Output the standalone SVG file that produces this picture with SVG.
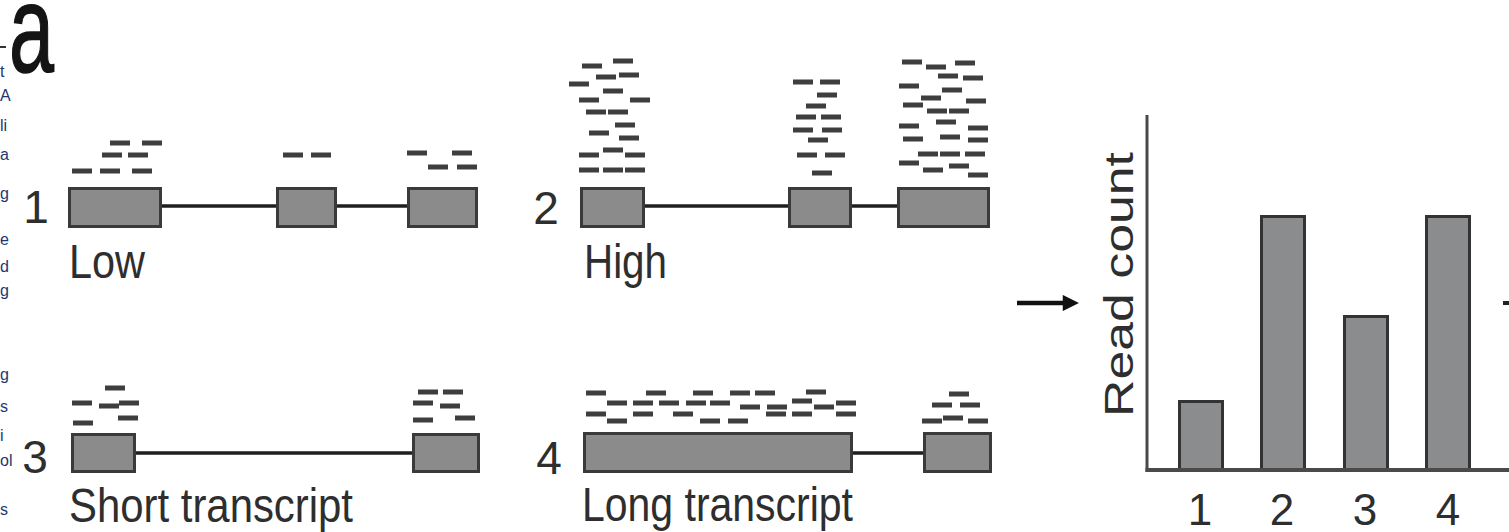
<svg xmlns="http://www.w3.org/2000/svg" xmlns:xlink="http://www.w3.org/1999/xlink" width="1509" height="532" viewBox="0 0 1509 532">
  <style>
    .lbl { font-family: "Liberation Sans", Arial, sans-serif; font-size: 48px; fill: #2e2e2e; }
    .num { font-family: "Liberation Sans", Arial, sans-serif; font-size: 46px; fill: #2e2e2e; text-anchor: middle; }
    .ax  { font-family: "Liberation Sans", Arial, sans-serif; font-size: 44px; fill: #2e2e2e; text-anchor: middle; }
    .frag { font-family: "Liberation Sans", Arial, sans-serif; font-size: 16px; fill: #1f3572; }
    .exon { fill: #8b8b8b; stroke: #3a3a3a; stroke-width: 3; }
    .intron { stroke: #1e1e1e; stroke-width: 3.5; fill: none; }
    .bar { fill: #8b8c8e; stroke: #333; stroke-width: 3; }
    .axis { stroke: #4a4a4a; fill: none; }
    .rd { fill: #3e3e3e; }
  </style>
  <defs>
    <!-- one sequencing read -->
    <rect id="r" width="20" height="5" class="rd"/>
    <marker id="head" viewBox="0 0 10 10" refX="2" refY="5" markerWidth="3.8" markerHeight="3.6" orient="auto" markerUnits="strokeWidth">
      <path d="M0,0 L10,5 L0,10 z" fill="#111"/>
    </marker>
  </defs>
  <rect width="1509" height="532" fill="#ffffff"/>

  <!-- text running in from the left margin -->
  <g id="margin-text">
    <rect x="0" y="46" width="6" height="2" fill="#333"/>
    <text class="frag" x="0" y="77">t</text>
    <text class="frag" x="0" y="101">A</text>
    <text class="frag" x="0" y="131">li</text>
    <text class="frag" x="0" y="160">a</text>
    <text class="frag" x="0" y="199">g</text>
    <text class="frag" x="0" y="245">e</text>
    <text class="frag" x="0" y="272">d</text>
    <text class="frag" x="0" y="296">g</text>
    <text class="frag" x="0" y="380">g</text>
    <text class="frag" x="0" y="412">s</text>
    <text class="frag" x="0" y="441">i</text>
    <text class="frag" x="0" y="466">ol</text>
    <text class="frag" x="0" y="515">s</text>
  </g>

  <!-- panel letter -->
  <text id="panel-label" x="9" y="72" font-family="'Liberation Sans', Arial, sans-serif" font-size="124" fill="#141414" stroke="#141414" stroke-width="1.5" textLength="45" lengthAdjust="spacingAndGlyphs">a</text>

  <!-- gene 1: low expression -->
  <g id="gene1">
    <line class="intron" x1="160" y1="206" x2="410" y2="206"/>
    <rect class="exon" x="69.5" y="188.5" width="91" height="38"/>
    <rect class="exon" x="277.5" y="188.5" width="58" height="38"/>
    <rect class="exon" x="408.5" y="188.5" width="68" height="38"/>
    <g>
      <use href="#r" x="110" y="140.5"/><use href="#r" x="142" y="140.5"/>
      <use href="#r" x="102" y="152.5"/><use href="#r" x="128" y="152.5"/>
      <use href="#r" x="72" y="168.5"/><use href="#r" x="100" y="168.5"/><use href="#r" x="132" y="168.5"/>
      <use href="#r" x="283" y="152.5"/><use href="#r" x="311" y="152.5"/>
      <use href="#r" x="407" y="150.5"/><use href="#r" x="452" y="150.5"/>
      <use href="#r" x="428" y="164.5"/><use href="#r" x="457" y="164.5"/>
    </g>
    <text class="num" x="36" y="223">1</text>
    <text class="lbl" x="69" y="278" textLength="76" lengthAdjust="spacingAndGlyphs">Low</text>
  </g>

  <!-- gene 2: high expression -->
  <g id="gene2">
    <line class="intron" x1="643" y1="206" x2="899" y2="206"/>
    <rect class="exon" x="581.5" y="188.5" width="62" height="38"/>
    <rect class="exon" x="789.5" y="188.5" width="61" height="38"/>
    <rect class="exon" x="898.5" y="188.5" width="90" height="38"/>
    <g>
      <use href="#r" x="613" y="58.5"/><use href="#r" x="582" y="63.5"/><use href="#r" x="596" y="74.5"/>
      <use href="#r" x="619" y="72.5"/><use href="#r" x="569" y="81.5"/><use href="#r" x="603" y="88.5"/>
      <use href="#r" x="579" y="97.5"/><use href="#r" x="630" y="97.5"/><use href="#r" x="586" y="109.5"/>
      <use href="#r" x="608" y="109.5"/><use href="#r" x="615" y="122.5"/><use href="#r" x="589" y="130.5"/>
      <use href="#r" x="619" y="135.5"/><use href="#r" x="579" y="152.5"/><use href="#r" x="603" y="147.5"/>
      <use href="#r" x="625" y="152.5"/><use href="#r" x="579" y="167.5"/><use href="#r" x="603" y="167.5"/>
      <use href="#r" x="625" y="167.5"/>

      <use href="#r" x="793" y="79.5"/><use href="#r" x="820" y="79.5"/><use href="#r" x="817" y="92.5"/>
      <use href="#r" x="806" y="103.5"/><use href="#r" x="796" y="114.5"/><use href="#r" x="821" y="114.5"/>
      <use href="#r" x="793" y="127.5"/><use href="#r" x="822" y="127.5"/><use href="#r" x="808" y="137.5"/>
      <use href="#r" x="797" y="152.5"/><use href="#r" x="825" y="152.5"/><use href="#r" x="812" y="170.5"/>

      <use href="#r" x="902" y="59.5"/><use href="#r" x="926" y="64.5"/><use href="#r" x="955" y="60.5"/>
      <use href="#r" x="938" y="73.5"/><use href="#r" x="963" y="75.5"/><use href="#r" x="899" y="83.5"/>
      <use href="#r" x="942" y="87.5"/><use href="#r" x="921" y="95.5"/><use href="#r" x="966" y="98.5"/>
      <use href="#r" x="903" y="102.5"/><use href="#r" x="927" y="108.5"/><use href="#r" x="949" y="108.5"/>
      <use href="#r" x="936" y="119.5"/><use href="#r" x="899" y="123.5"/><use href="#r" x="968" y="125.5"/>
      <use href="#r" x="903" y="136.5"/><use href="#r" x="940" y="134.5"/><use href="#r" x="968" y="137.5"/>
      <use href="#r" x="918" y="151.5"/><use href="#r" x="940" y="151.5"/><use href="#r" x="965" y="151.5"/>
      <use href="#r" x="899" y="160.5"/><use href="#r" x="923" y="167.5"/><use href="#r" x="949" y="163.5"/>
      <use href="#r" x="968" y="172.5"/>
    </g>
    <text class="num" x="546" y="224">2</text>
    <text class="lbl" x="584" y="278" textLength="83" lengthAdjust="spacingAndGlyphs">High</text>
  </g>

  <!-- gene 3: short transcript -->
  <g id="gene3">
    <line class="intron" x1="134" y1="453" x2="414" y2="453"/>
    <rect class="exon" x="72.5" y="434.5" width="62" height="37"/>
    <rect class="exon" x="413.5" y="434.5" width="65" height="37"/>
    <g>
      <use href="#r" x="105" y="385.5"/><use href="#r" x="72" y="400.5"/><use href="#r" x="99" y="403.5"/>
      <use href="#r" x="119" y="400.5"/><use href="#r" x="118" y="415.5"/><use href="#r" x="73" y="420.5"/>
      <use href="#r" x="418" y="389.5"/><use href="#r" x="443" y="389.5"/><use href="#r" x="413" y="400.5"/>
      <use href="#r" x="440" y="403.5"/><use href="#r" x="413" y="417.5"/><use href="#r" x="455" y="415.5"/>
    </g>
    <text class="num" x="35" y="473">3</text>
    <text class="lbl" x="69" y="522" textLength="284" lengthAdjust="spacingAndGlyphs">Short transcript</text>
  </g>

  <!-- gene 4: long transcript -->
  <g id="gene4">
    <line class="intron" x1="851" y1="453" x2="925" y2="453"/>
    <rect class="exon" x="584.5" y="433.5" width="267" height="38"/>
    <rect class="exon" x="924.5" y="433.5" width="66" height="38"/>
    <g>
      <use href="#r" x="586" y="390.5"/><use href="#r" x="646" y="390.5"/><use href="#r" x="693" y="390.5"/>
      <use href="#r" x="730" y="390.5"/><use href="#r" x="755" y="390.5"/><use href="#r" x="806" y="389.5"/>
      <use href="#r" x="607" y="400.5"/><use href="#r" x="633" y="400.5"/><use href="#r" x="659" y="400.5"/>
      <use href="#r" x="686" y="400.5"/><use href="#r" x="710" y="400.5"/><use href="#r" x="792" y="398.5"/>
      <use href="#r" x="836" y="400.5"/>
      <use href="#r" x="740" y="404.5"/><use href="#r" x="767" y="404.5"/><use href="#r" x="814" y="404.5"/>
      <use href="#r" x="586" y="411.5"/><use href="#r" x="633" y="411.5"/><use href="#r" x="673" y="411.5"/>
      <use href="#r" x="766" y="411.5"/><use href="#r" x="792" y="411.5"/><use href="#r" x="836" y="411.5"/>
      <use href="#r" x="607" y="418.5"/><use href="#r" x="700" y="418.5"/><use href="#r" x="728" y="418.5"/>

      <use href="#r" x="949" y="391.5"/><use href="#r" x="932" y="402.5"/><use href="#r" x="960" y="402.5"/>
      <use href="#r" x="922" y="418.5"/><use href="#r" x="943" y="415.5"/><use href="#r" x="968" y="418.5"/>
    </g>
    <text class="num" x="549" y="474">4</text>
    <text class="lbl" x="582" y="521" textLength="271" lengthAdjust="spacingAndGlyphs">Long transcript</text>
  </g>

  <!-- read count bar chart -->
  <g id="chart">
    <line class="axis" x1="1147" y1="115" x2="1147" y2="472" stroke-width="3"/>
    <rect class="bar" x="1179.5" y="401.5" width="43" height="68.5"/>
    <rect class="bar" x="1261.5" y="216.5" width="43" height="253.5"/>
    <rect class="bar" x="1344.5" y="316.5" width="43" height="153.5"/>
    <rect class="bar" x="1426.5" y="216.5" width="43" height="253.5"/>
    <line class="axis" x1="1145.5" y1="470" x2="1509" y2="470" stroke-width="4"/>
    <text class="ax" x="1200" y="525">1</text>
    <text class="ax" x="1282" y="525">2</text>
    <text class="ax" x="1365" y="525">3</text>
    <text class="ax" x="1448" y="525">4</text>
    <text transform="translate(1133,284.5) rotate(-90)" x="0" y="0" font-family="'Liberation Sans', Arial, sans-serif" font-size="40" fill="#2e2e2e" text-anchor="middle" textLength="265" lengthAdjust="spacingAndGlyphs">Read count</text>
  </g>

  <g id="connectors">
    <line x1="1017" y1="303" x2="1066" y2="303" stroke="#111" stroke-width="4.5" marker-end="url(#head)"/>
    <rect x="1503" y="301" width="6" height="4" fill="#222"/>
  </g>
</svg>
